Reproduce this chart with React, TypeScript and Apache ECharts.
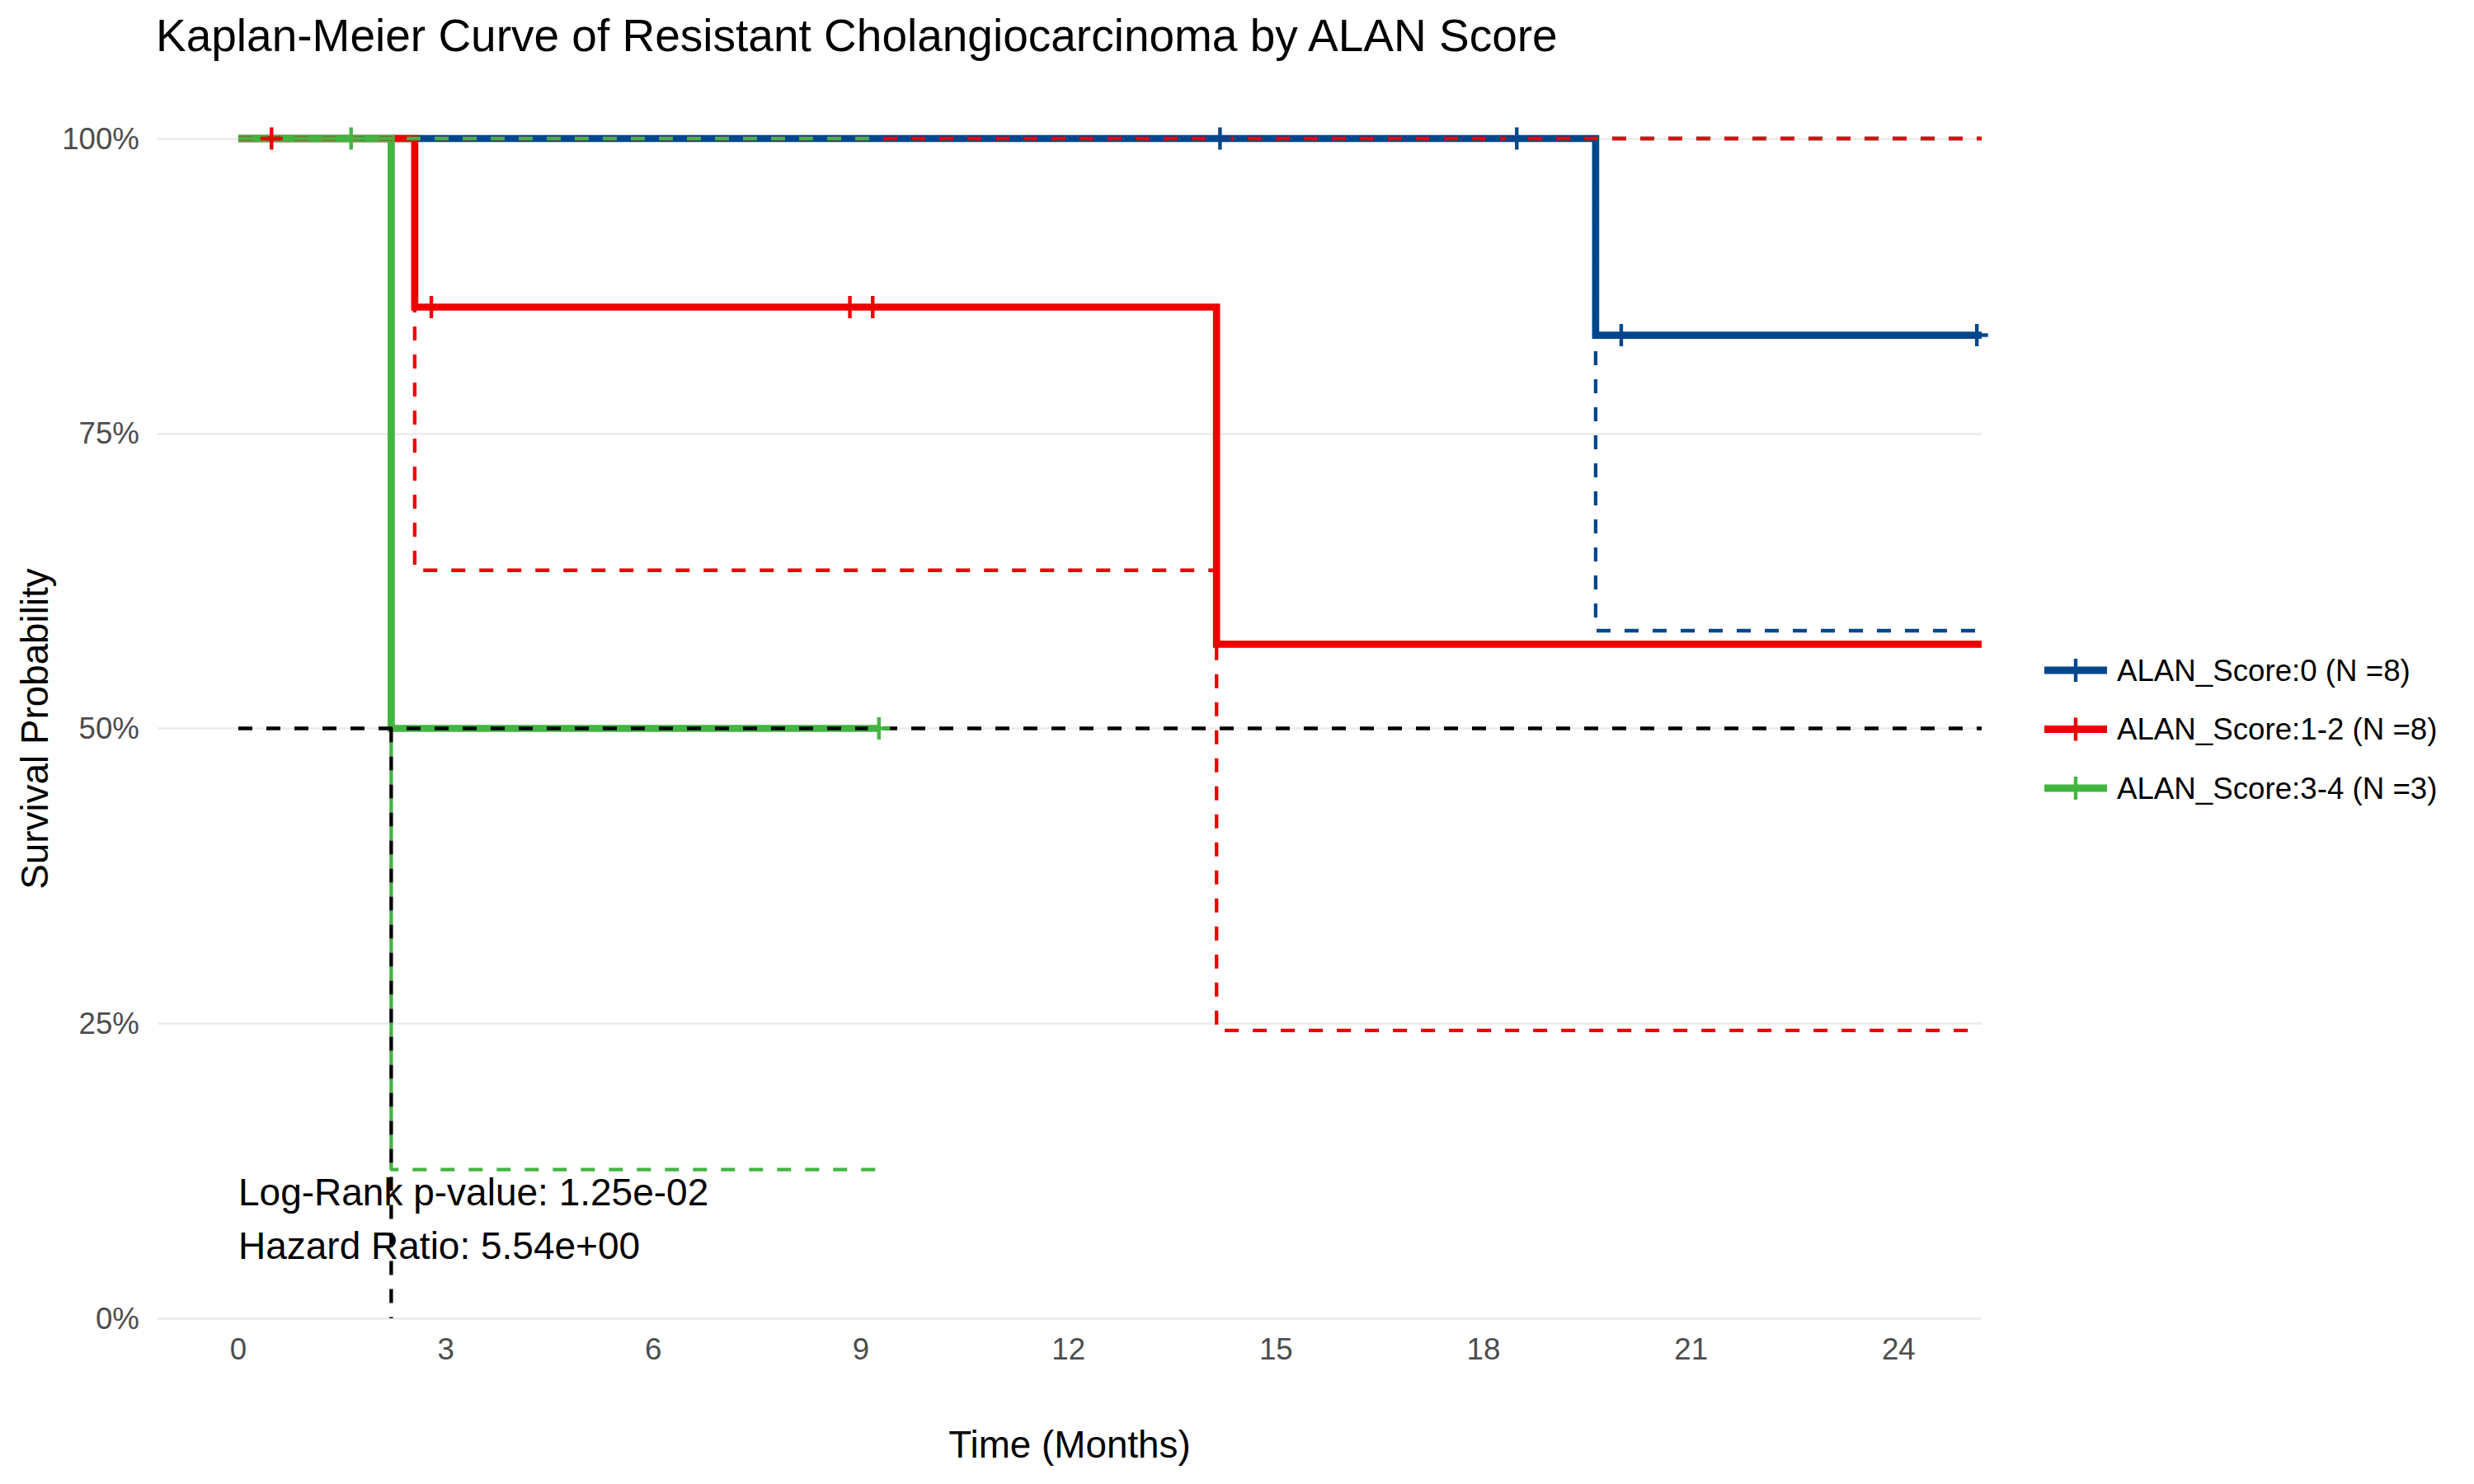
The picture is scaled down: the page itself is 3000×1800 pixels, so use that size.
import React, { useEffect, useRef } from "react";
import * as echarts from "echarts";

// ---------- data ----------
const groupNames = ["ALAN_Score:0 (N =8)", "ALAN_Score:1-2 (N =8)", "ALAN_Score:3-4 (N =3)"];
const groupColors = ["#00468B", "#ED0000", "#42B540"];

// ALAN_Score:0
const blueTimes = [0, 19.62];
const blueSurv = [1, 0.8333];
const blueLower = [1, 0.5828];
const blueUpper = [1, 1];
const blueEnd = 25.2;
const blueCensor = [14.19, 18.48, 19.99, 25.13];

// ALAN_Score:1-2
const redTimes = [0, 2.55, 14.14];
const redSurv = [1, 0.8571, 0.5714];
const redLower = [1, 0.634, 0.244];
const redUpper = [1, 1, 1];
const redEnd = 25.2;
const redCensor = [0.48, 2.79, 8.84, 9.17];

// ALAN_Score:3-4
const greenTimes = [0, 2.21];
const greenSurv = [1, 0.5];
const greenLower = [1, 0.126];
const greenUpper = [1, 1];
const greenEnd = 9.26;
const greenCensor = [1.63, 9.26];

// median line
const medianSurv = 0.5;
const medianTime = 2.21;
const medianLineEnd = 25.2;

const xTicks = [0, 3, 6, 9, 12, 15, 18, 21, 24];
const yTicks = [0, 0.25, 0.5, 0.75, 1];

const annotLines = ["Log-Rank p-value: 1.25e-02", "Hazard Ratio: 5.54e+00"];
const annotY = [0.107, 0.0615];

const titleText = "Kaplan-Meier Curve of Resistant Cholangiocarcinoma by ALAN Score";

// ---------- helpers ----------
function stepPoints(times: number[], vals: number[], end: number): number[][] {
  const pts: number[][] = [];
  for (let i = 0; i < times.length; i++) {
    if (i > 0) pts.push([times[i], vals[i - 1]]);
    pts.push([times[i], vals[i]]);
  }
  pts.push([end, vals[vals.length - 1]]);
  return pts;
}
function valueAt(times: number[], vals: number[], t: number): number {
  let v = vals[0];
  for (let i = 0; i < times.length; i++) if (t >= times[i]) v = vals[i];
  return v;
}

const FONT = "Liberation Sans, Arial, sans-serif";
const PLUS =
  "path://M11.3,0 h4.4 v11.3 h11.3 v4.4 h-11.3 v11.3 h-4.4 v-11.3 h-11.3 v-4.4 h11.3 z";
const LEGEND_ICON = "path://M0,9.6 h76 v8.8 h-76 z M35.8,0 h4.4 v28 h-4.4 z";

export default function App() {
  const ref = useRef<HTMLDivElement>(null);
  useEffect(() => {
    if (!ref.current) return;
    const chart = echarts.init(ref.current, null, { renderer: "svg" });

    const groups = [
      { t: blueTimes, s: blueSurv, lo: blueLower, up: blueUpper, end: blueEnd, c: blueCensor },
      { t: redTimes, s: redSurv, lo: redLower, up: redUpper, end: redEnd, c: redCensor },
      { t: greenTimes, s: greenSurv, lo: greenLower, up: greenUpper, end: greenEnd, c: greenCensor },
    ];

    const series: any[] = [];
    groups.forEach((g, i) => {
      series.push({
        name: groupNames[i],
        type: "line",
        data: stepPoints(g.t, g.s, g.end),
        showSymbol: false,
        clip: false,
        itemStyle: { color: groupColors[i] },
        lineStyle: { color: groupColors[i], width: 8.7, cap: "butt", join: "miter" },
        z: 2,
      });
    });
    groups.forEach((g, i) => {
      [g.up, g.lo].forEach((b, k) => {
        series.push({
          name: "ci" + i + "_" + k,
          type: "line",
          data: stepPoints(g.t, b, g.end),
          showSymbol: false,
          clip: false,
          lineStyle: { color: groupColors[i], width: 4.3, type: [17, 17], cap: "butt" },
          z: 3,
        });
      });
    });
    series.push({
      name: "medianH",
      type: "line",
      data: [
        [0, medianSurv],
        [medianLineEnd, medianSurv],
      ],
      showSymbol: false,
      clip: false,
      lineStyle: { color: "#000000", width: 4.3, type: [17, 17], cap: "butt" },
      z: 4,
    });
    series.push({
      name: "medianV",
      type: "line",
      data: [
        [medianTime, medianSurv],
        [medianTime, 0],
      ],
      showSymbol: false,
      clip: false,
      lineStyle: { color: "#000000", width: 4.3, type: [17, 17], cap: "butt" },
      z: 4,
    });
    groups.forEach((g, i) => {
      series.push({
        name: "censor" + i,
        type: "scatter",
        data: g.c.map((t) => [t, valueAt(g.t, g.s, t)]),
        symbol: PLUS,
        symbolSize: 27,
        clip: false,
        itemStyle: { color: groupColors[i], opacity: 1 },
        z: 5,
      });
    });

    const option: any = {
      animation: false,
      backgroundColor: "#ffffff",
      textStyle: { fontFamily: FONT },
      grid: { left: 191, right: 597, top: 168, bottom: 201, containLabel: false },
      xAxis: {
        type: "value",
        min: -1.168,
        max: 25.2,
        axisLine: { show: false },
        axisTick: { show: false },
        splitLine: { show: false },
        axisLabel: {
          customValues: xTicks,
          color: "#4D4D4D",
          fontSize: 36.7,
          fontFamily: FONT,
          margin: 19,
        },
      },
      yAxis: {
        type: "value",
        min: 0,
        max: 1,
        interval: 0.25,
        axisLine: { show: false },
        axisTick: { show: false },
        splitLine: { show: true, lineStyle: { color: "#EBEBEB", width: 2.7 } },
        axisLabel: {
          color: "#4D4D4D",
          fontSize: 36.7,
          fontFamily: FONT,
          margin: 22,
          formatter: (v: number) => (yTicks.includes(v) ? Math.round(v * 100) + "%" : ""),
        },
      },
      legend: {
        data: groupNames,
        orient: "vertical",
        left: 2474,
        top: 786,
        itemWidth: 76,
        itemHeight: 28,
        itemGap: 27.5,
        icon: LEGEND_ICON,
        textStyle: { fontSize: 36.7, lineHeight: 44, color: "#000000", fontFamily: FONT, padding: [0, 0, 0, 7] },
        selectedMode: false,
      },
      series,
    };
    chart.setOption(option);

    const texts: any[] = [
      {
        type: "text",
        x: 189,
        y: 43,
        style: { text: titleText, fontSize: 55, fontFamily: FONT, fill: "#000", textAlign: "left", textVerticalAlign: "middle" },
      },
      {
        type: "text",
        x: 1297,
        y: 1752,
        style: { text: "Time (Months)", fontSize: 45.8, fontFamily: FONT, fill: "#000", textAlign: "center", textVerticalAlign: "middle" },
      },
      {
        type: "text",
        x: 42,
        y: 884,
        rotation: Math.PI / 2,
        style: { text: "Survival Probability", fontSize: 45.8, fontFamily: FONT, fill: "#000", textAlign: "center", textVerticalAlign: "middle" },
      },
    ];
    annotLines.forEach((s, i) => {
      const p = chart.convertToPixel({ gridIndex: 0 }, [0, annotY[i]]) as number[];
      texts.push({
        type: "text",
        x: p[0],
        y: p[1],
        style: { text: s, fontSize: 46, fontFamily: FONT, fill: "#000", textAlign: "left", textVerticalAlign: "middle" },
        z: 10,
      });
    });
    chart.setOption({ graphic: texts });

    return () => chart.dispose();
  }, []);
  return <div ref={ref} style={{ position: "absolute", left: 0, top: 0, width: 3000, height: 1800 }} />;
}
